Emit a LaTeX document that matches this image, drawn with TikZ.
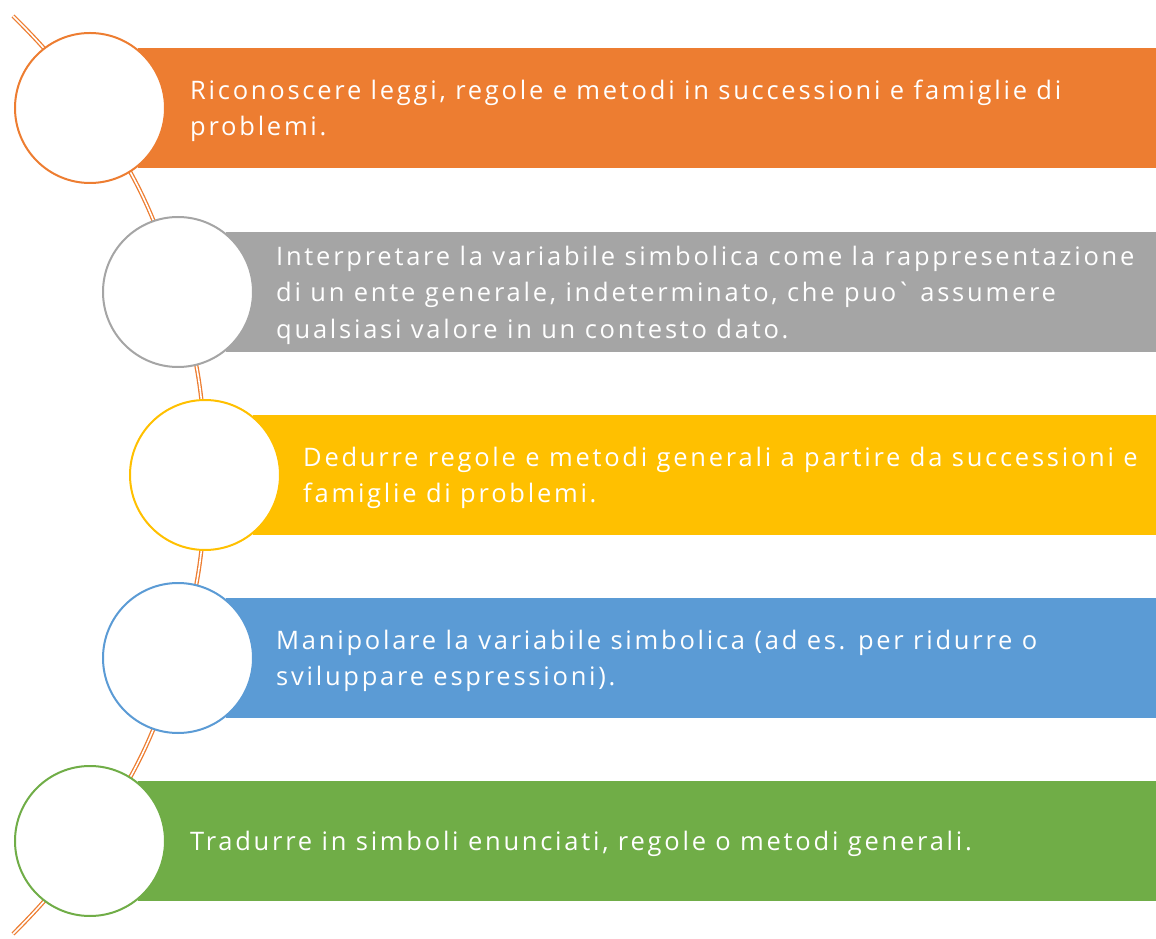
\documentclass[tikz,border=0pt]{standalone}
\usepackage{fontspec}
\setmainfont{Open Sans}[LetterSpace=10.8]
\usepackage{xcolor}
\usepackage{tikz}
\usetikzlibrary{positioning}
\usetikzlibrary{backgrounds}

\definecolor{orangeA}{HTML}{ED7D31}
\definecolor{grayA}{HTML}{A5A5A5}
\definecolor{yellowA}{HTML}{FFC000}
\definecolor{blueA}{HTML}{5B9BD5}
\definecolor{greenA}{HTML}{70AD47}

\tikzset{
  ring/.style={circle, fill=white, line width=2pt, minimum size=150pt, inner sep=0pt},
  bar/.style={rectangle, minimum height=120pt, inner sep=0pt, anchor=west},
  bartext/.style={text=white, align=left, inner sep=0pt, anchor=west, yshift=-3pt,
    font=\fontsize{25.5}{36.5}\selectfont},
  track/.style={draw=orangeA, line width=1.3pt, double=white, double distance=1.6pt}
}

\begin{document}
\begin{tikzpicture}[x=1pt, y=1pt]
\useasboundingbox (0,0) rectangle (1156,938);
% bars
  \node (bar1) [bar, fill=orangeA, minimum width=1018pt] at (138,830) {};
  \node (bar2) [bar, fill=grayA,   minimum width=930pt]  at (226,646) {};
  \node (bar3) [bar, fill=yellowA, minimum width=903pt]  at (253,463) {};
  \node (bar4) [bar, fill=blueA,   minimum width=930pt]  at (226,280) {};
  \node (bar5) [bar, fill=greenA,  minimum width=1018pt] at (138,97)  {};
% rings
  \node (ring1) [ring, draw=orangeA] at (90,830)  {};
  \node (ring2) [ring, draw=grayA]   at (178,646) {};
  \node (ring3) [ring, draw=yellowA] at (205,463) {};
  \node (ring4) [ring, draw=blueA]   at (178,280) {};
  \node (ring5) [ring, draw=greenA]  at (90,97)   {};
% texts
  \node (riconoscere) [bartext, right=24pt of ring1] {Riconoscere leggi, regole e metodi in successioni e famiglie di\\problemi.};
  \node (interpretare) [bartext, right=22pt of ring2] {Interpretare la variabile simbolica come la rappresentazione\\di un ente generale, indeterminato, che puo\textasciigrave\ assumere\\qualsiasi valore in un contesto dato.};
  \node (dedurre) [bartext, right=22pt of ring3] {Dedurre regole e metodi generali a partire da successioni e\\famiglie di problemi.};
  \node (manipolare) [bartext, right=22pt of ring4] {Manipolare la variabile simbolica (ad es. per ridurre o\\sviluppare espressioni).};
  \node (tradurre) [bartext, right=24pt of ring5] {Tradurre in simboli enunciati, regole o metodi generali.};
% track behind the rings
  \coordinate (top) at (13,922);
  \coordinate (bottom) at (13,4);
  \begin{scope}[on background layer]
    \draw [track] (top) to[bend left=5.3] (ring1.center)
      to[bend left=9.1] (ring2.center)
      to[bend left=8.2] (ring3.center)
      to[bend left=8.2] (ring4.center)
      to[bend left=9.1] (ring5.center)
      to[bend left=5.3] (bottom);
  \end{scope}
\end{tikzpicture}
\end{document}
